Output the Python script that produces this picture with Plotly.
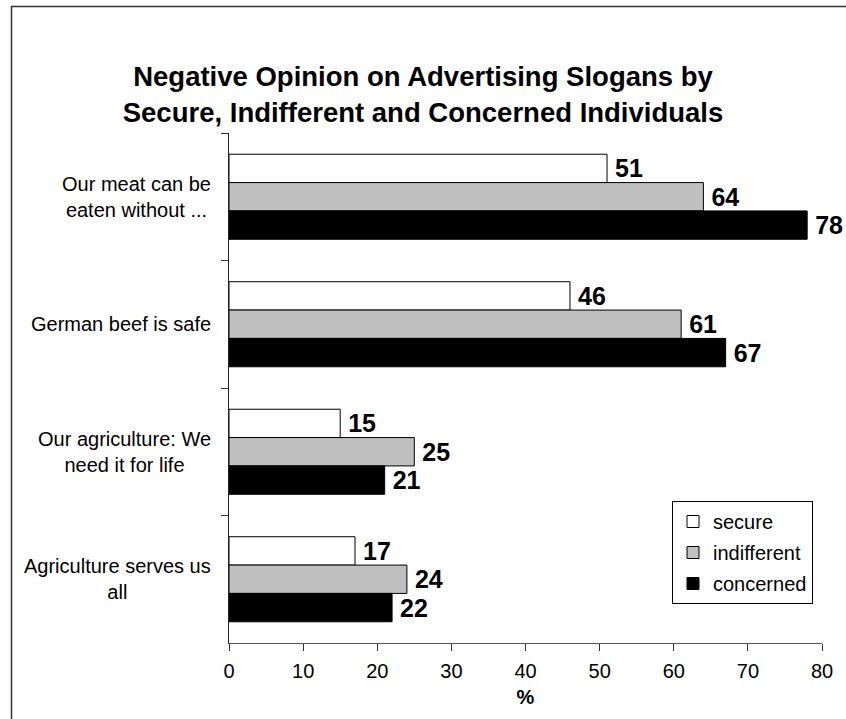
import plotly.graph_objects as go

# Slogans (top to bottom) and share of negative opinions in %
slogans = [
    "Our meat can be<br>eaten without ...",
    "German beef is safe",
    "Our agriculture: We<br>need it for life",
    "Agriculture serves us<br>all",
]
secure = [51, 46, 15, 17]
indifferent = [64, 61, 25, 24]
concerned = [78, 67, 21, 22]

series = [
    ("secure", secure, "#ffffff"),
    ("indifferent", indifferent, "#c0c0c0"),
    ("concerned", concerned, "#000000"),
]

FONT = "Arial, Liberation Sans, sans-serif"
W, H = 846, 719
ML, MR, MT, MB = 229, 24, 133, 76
PW, PH = W - ML - MR, H - MT - MB

fig = go.Figure()
for name, vals, color in series:
    fig.add_trace(go.Bar(
        y=slogans, x=vals, name=name, orientation="h",
        marker=dict(color=color, line=dict(color="#000000", width=1)),
        text=["\u2009" + str(v) for v in vals], textposition="outside",
        textfont=dict(family=FONT, size=25, color="#000000", weight="bold"),
        constraintext="none", cliponaxis=False,
        legendgroup=name, hoverinfo="x+name",
    ))

# Category labels, centred per line, left of the axis
for s in slogans:
    fig.add_annotation(
        x=0, xref="paper", xanchor="right", xshift=-16,
        y=s, yref="y", yanchor="middle",
        text=s, align="center", showarrow=False,
        font=dict(family=FONT, size=20, color="#000000"),
    )

boundaries = [i - 0.5 for i in range(len(slogans) + 1)]

fig.update_layout(
    width=W, height=H,
    margin=dict(l=ML, r=MR, t=MT, b=MB),
    paper_bgcolor="#ffffff", plot_bgcolor="#ffffff",
    barmode="group", bargap=0.333, bargroupgap=0,
    title=dict(
        text="Negative Opinion on Advertising Slogans by<br>Secure, Indifferent and Concerned Individuals",
        x=0.5, xanchor="center", y=1 - 86 / H, yanchor="top",
        font=dict(family=FONT, size=27.5, color="#000000", weight="bold"),
    ),
    xaxis=dict(
        range=[0, 80], dtick=10, showgrid=False, zeroline=False,
        showline=True, linecolor="#555555", linewidth=1,
        ticks="outside", ticklen=7, tickcolor="#333333",
        ticklabelstandoff=3,
        tickfont=dict(family=FONT, size=20, color="#000000"),
        title=dict(text="%", standoff=8,
                   font=dict(family=FONT, size=20, color="#000000", weight="bold")),
    ),
    xaxis2=dict(
        range=[0, 80], dtick=10, overlaying="x", anchor="y", side="bottom",
        showgrid=False, zeroline=False, showline=False,
        ticks="inside", ticklen=6, tickcolor="#333333", showticklabels=False,
    ),
    yaxis=dict(
        autorange=False, range=[3.5, -0.5], type="category",
        showgrid=False, zeroline=False, showticklabels=False,
        showline=True, linecolor="#222222", linewidth=1,
        ticks="outside", ticklen=7, tickson="boundaries", tickcolor="#333333",
    ),
    yaxis2=dict(
        range=[3.5, -0.5], overlaying="y", anchor="x", side="left",
        tickmode="array", tickvals=boundaries,
        showgrid=False, zeroline=False, showline=False,
        ticks="inside", ticklen=6, tickcolor="#333333", showticklabels=False,
    ),
    legend=dict(
        x=(672 - ML) / PW, y=(643 - 501) / PH, xanchor="left", yanchor="top",
        bgcolor="#ffffff", bordercolor="#000000", borderwidth=1,
        font=dict(family=FONT, size=20, color="#000000"),
        traceorder="grouped", tracegroupgap=2,
        itemwidth=30, entrywidth=123, entrywidthmode="pixels",
    ),
    showlegend=True,
    shapes=[dict(
        type="rect", xref="paper", yref="paper", layer="below",
        x0=(11.5 - ML) / PW, x1=(W + 60 - ML) / PW,
        y0=(H - MB - (H + 60)) / PH, y1=(H - MB - 6.5) / PH,
        line=dict(color="#333333", width=1.5), fillcolor="rgba(0,0,0,0)",
    )],
)

fig.write_html("out.html")
